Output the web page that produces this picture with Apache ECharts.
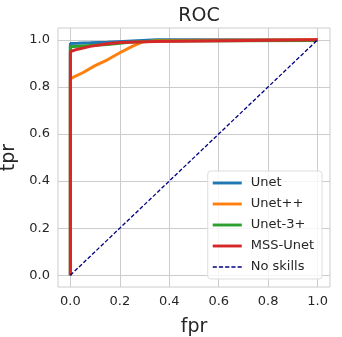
<!DOCTYPE html>
<html>
<head>
<meta charset="utf-8">
<script src="https://cdn.jsdelivr.net/npm/echarts@6/dist/echarts.min.js"></script>
<style>
html, body { margin: 0; padding: 0; background: #fff; }
#roc { width: 342px; height: 337px; }
</style>
</head>
<body>
<div id="roc"></div>
<script>
// ROC points: [fpr, tpr]
const unetFpr = [0, 0, 0.03, 0.08, 0.15, 0.25, 0.35, 1.0];
const unetTpr = [0, 0.984, 0.985, 0.987, 0.99, 0.995, 1.0, 1.0];
const unetppFpr = [0, 0, 0.05, 0.1, 0.15, 0.2, 0.25, 0.29, 0.35, 1.0];
const unetppTpr = [0, 0.835, 0.86, 0.89, 0.915, 0.945, 0.972, 0.99, 0.997, 1.0];
const unet3Fpr = [0, 0, 0.05, 0.1, 0.15, 0.2, 0.25, 0.3, 0.35, 1.0];
const unet3Tpr = [0, 0.97, 0.974, 0.977, 0.98, 0.985, 0.99, 0.993, 0.995, 0.997];
const mssFpr = [0, 0, 0.03, 0.08, 0.15, 0.2, 0.34, 0.345, 1.0];
const mssTpr = [0, 0.95, 0.96, 0.972, 0.983, 0.988, 0.993, 1.0, 1.0];
const noSkillFpr = [0, 1];
const noSkillTpr = [0, 1];
const tickValues = [0, 0.2, 0.4, 0.6, 0.8, 1.0];

const pairs = (xs, ys) => xs.map((x, i) => [x, ys[i]]);
const font = 'DejaVu Sans';
const solidIcon = 'path://M0,0h30v3h-30z';
const dashIcon = 'path://M0,0h4v1.3h-4zM6,0h4v1.3h-4zM12,0h4v1.3h-4zM18,0h4v1.3h-4zM24,0h4v1.3h-4z';

let myChart = echarts.init(document.getElementById('roc'));
const curve = (name, color, xs, ys) => ({
    name: name,
    type: 'line',
    symbol: 'none',
    color: color,
    lineStyle: { width: 3, color: color },
    data: pairs(xs, ys)
});
const axisCommon = {
    type: 'value',
    min: -0.05,
    max: 1.05,
    axisLine: { show: false },
    axisTick: { show: false, customValues: tickValues },
    axisLabel: {
        customValues: tickValues,
        color: '#262626',
        fontFamily: font,
        fontSize: 13,
        formatter: v => v.toFixed(1)
    },
    splitLine: { show: true, lineStyle: { color: '#cccccc', width: 1 } },
    nameLocation: 'middle',
    nameTextStyle: { fontFamily: font, fontSize: 19, color: '#262626' }
};
myChart.setOption({
    animation: false,
    backgroundColor: '#fff',
    title: {
        text: 'ROC',
        left: 194,
        textAlign: 'center',
        top: 2,
        textStyle: { fontFamily: font, fontSize: 19, fontWeight: 'normal', color: '#262626' }
    },
    grid: {
        left: 58, right: 12, top: 28, bottom: 50,
        outerBoundsMode: 'none',
        containLabel: false,
        show: true, borderColor: '#cccccc', borderWidth: 1
    },
    legend: {
        orient: 'vertical',
        right: 20,
        top: 171,
        itemWidth: 29,
        itemHeight: 3,
        itemGap: 7,
        padding: [5, 8, 5, 5],
        backgroundColor: 'rgba(255,255,255,0.8)',
        borderColor: '#dddddd',
        borderWidth: 1,
        borderRadius: 3,
        textStyle: { fontFamily: font, fontSize: 13, color: '#262626', lineHeight: 14, height: 14, padding: [0, 0, 0, 4] },
        data: [
            { name: 'Unet', icon: solidIcon },
            { name: 'Unet++', icon: solidIcon },
            { name: 'Unet-3+', icon: solidIcon },
            { name: 'MSS-Unet', icon: solidIcon },
            { name: 'No skills', icon: dashIcon }
        ]
    },
    xAxis: Object.assign({}, axisCommon, { name: 'fpr', nameGap: 31 }),
    yAxis: Object.assign({}, axisCommon, { name: 'tpr', nameGap: 35 }),
    series: [
        curve('Unet', '#1f77b4', unetFpr, unetTpr),
        curve('Unet++', '#ff7f0e', unetppFpr, unetppTpr),
        curve('Unet-3+', '#2ca02c', unet3Fpr, unet3Tpr),
        curve('MSS-Unet', '#d62728', mssFpr, mssTpr),
        {
            name: 'No skills',
            type: 'line',
            symbol: 'none',
            color: '#000080',
            lineStyle: { width: 1.3, type: [4, 2], color: '#000080' },
            data: pairs(noSkillFpr, noSkillTpr)
        }
    ]
});
</script>
</body>
</html>
